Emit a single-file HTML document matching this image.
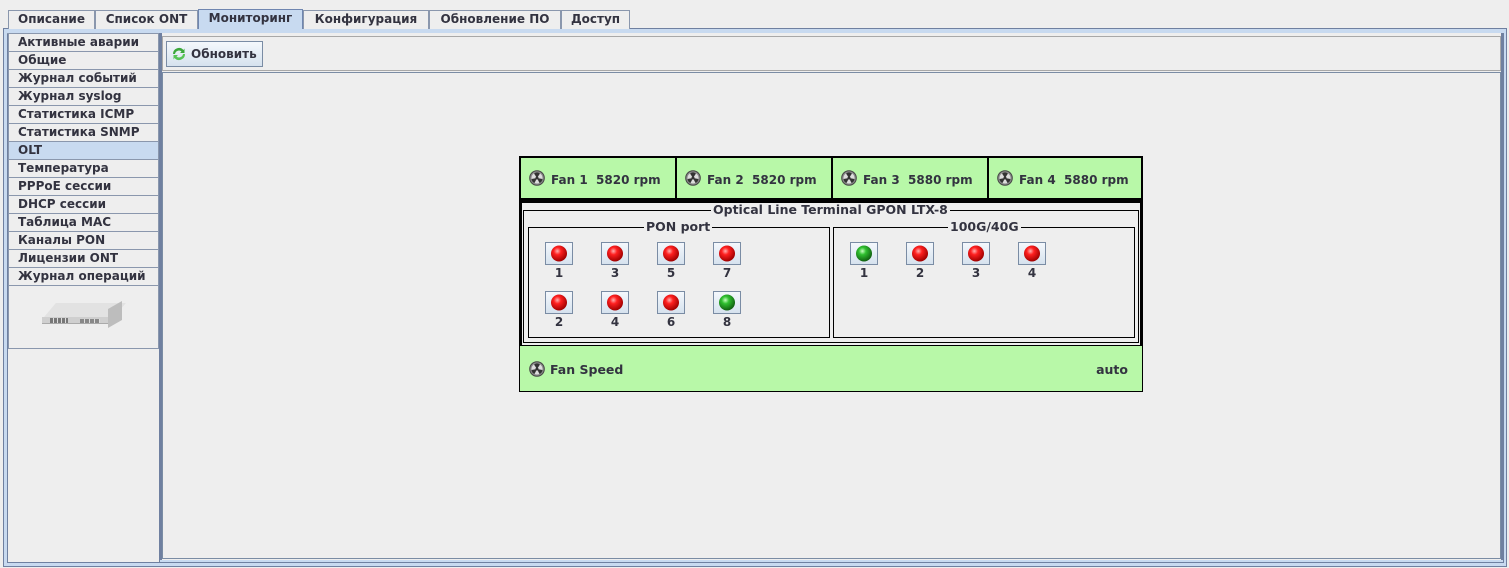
<!DOCTYPE html>
<html><head><meta charset="utf-8">
<style>
*{box-sizing:border-box;margin:0;padding:0}
body{width:1509px;height:568px;background:#eeeeee;position:relative;overflow:hidden;font-family:"DejaVu Sans","Liberation Sans",sans-serif;font-weight:bold;font-size:12px;color:#333340}
.a{position:absolute}
.tab{position:absolute;top:10px;height:19px;border:1px solid #8a97ad;border-bottom:none;background:#eeeeee;text-align:center;line-height:17px;font-size:12px}
.tab.sel{background:#c8daf0;border-color:#6f86b0;top:9px;height:20px}
.item{position:absolute;left:8px;width:151px;height:18px;border:1px solid #8a97ad;border-top:none;padding-left:9px;line-height:17px;background:#eeeeee}
.item.sel{background:#c8daf0}
.fan{position:absolute;top:156px;height:44px;background:#b8f8a8;border:2px solid #000;line-height:44px;padding-left:9px;font-size:12px}
.btn{position:absolute;width:28px;height:23px;border:1px solid #7a8ca4;background:linear-gradient(#f4f8fc,#d6e2ee)}
.num{position:absolute;width:28px;text-align:center;font-size:12px}
.leg{position:absolute;background:#eeeeee;padding:0 2px;line-height:14px;font-size:12.5px}
</style></head><body>
<div class="a" style="left:3px;top:28px;width:1504px;height:539px;border:1px solid #6f80a0;background:#c8daf0"></div>
<div class="a" style="left:7px;top:33px;width:1496px;height:530px;border:1px solid #6f80a0;background:#eeeeee"></div>
<div class="tab" style="left:8px;width:87px">Описание</div>
<div class="tab" style="left:95px;width:103px">Список ONT</div>
<div class="tab sel" style="left:198px;width:105px">Мониторинг</div>
<div class="tab" style="left:303px;width:126px">Конфигурация</div>
<div class="tab" style="left:429px;width:132px">Обновление ПО</div>
<div class="tab" style="left:561px;width:69px">Доступ</div>
<div class="a" style="left:7px;top:33px;width:153px;height:1px;background:#8a97ad"></div>
<div class="item" style="top:34px">Активные аварии</div>
<div class="item" style="top:52px">Общие</div>
<div class="item" style="top:70px">Журнал событий</div>
<div class="item" style="top:88px">Журнал syslog</div>
<div class="item" style="top:106px">Статистика ICMP</div>
<div class="item" style="top:124px">Статистика SNMP</div>
<div class="item sel" style="top:142px">OLT</div>
<div class="item" style="top:160px">Температура</div>
<div class="item" style="top:178px">PPPoE сессии</div>
<div class="item" style="top:196px">DHCP сессии</div>
<div class="item" style="top:214px">Таблица MAC</div>
<div class="item" style="top:232px">Каналы PON</div>
<div class="item" style="top:250px">Лицензии ONT</div>
<div class="item" style="top:268px">Журнал операций</div>
<div class="item" style="top:286px;height:63px"></div>
<div class="a" style="left:40px;top:303px;width:86px;height:28px">
<div class="a" style="left:10px;top:0;width:70px;height:14px;background:#e2e2e2;transform:skewX(-40deg)"></div>
<div class="a" style="left:2px;top:14px;width:66px;height:7px;background:#cfcfcf;border-bottom:1px solid #aaa"></div>
<div class="a" style="left:68px;top:2px;width:14px;height:19px;background:#bdbdbd;transform:skewY(-30deg)"></div>
<div class="a" style="left:10px;top:15px;width:18px;height:5px;background:repeating-linear-gradient(90deg,#777 0 3px,#ddd 3px 4px)"></div>
<div class="a" style="left:40px;top:16px;width:20px;height:4px;background:repeating-linear-gradient(90deg,#888 0 4px,#ddd 4px 5px)"></div>
</div>
<div class="a" style="left:159px;top:33px;width:1345px;height:530px;border:1px solid #6f80a0;border-top:none;background:#c8daf0"></div>
<div class="a" style="left:160px;top:33px;width:1343px;height:527px;border-left:2px solid #6f80a0;border-right:2px solid #6f80a0;background:#eeeeee"></div>
<div class="a" style="left:162px;top:36px;width:1339px;height:35px;border:1px solid #a8a8a8"></div>
<div class="a" style="left:162px;top:72px;width:1339px;height:487px;border:1px solid #7a8ca4"></div>
<div class="a" style="left:166px;top:41px;width:97px;height:26px;border:1px solid #7a8ca4;background:linear-gradient(#f4f8fc,#d6e2ee);line-height:25px;padding-left:24px">Обновить</div>
<svg class="a" style="left:171px;top:46px" width="16" height="16" viewBox="0 0 16 16"><path d="M2 8a6 6 0 0 1 10.5-4l1-1.5V7H9l1.5-1.5A4 4 0 0 0 4 8z" fill="#3ca83c"/><path d="M14 8a6 6 0 0 1-10.5 4l-1 1.5V9H7L5.5 10.5A4 4 0 0 0 12 8z" fill="#56c456"/></svg>
<div class="fan" style="left:519px;width:158px;padding-left:30px">Fan 1&nbsp; 5820 rpm</div>
<div class="fan" style="left:675px;width:158px;padding-left:30px">Fan 2&nbsp; 5820 rpm</div>
<div class="fan" style="left:831px;width:158px;padding-left:30px">Fan 3&nbsp; 5880 rpm</div>
<div class="fan" style="left:987px;width:156px;padding-left:30px">Fan 4&nbsp; 5880 rpm</div>
<div class="a" style="left:519px;top:200px;width:624px;height:148px;border:3px solid #000;background:#eeeeee"></div>
<div class="a" style="left:523px;top:210px;width:616px;height:133px;border:1px solid #000"></div>
<div class="leg" style="left:711px;top:203px">Optical Line Terminal GPON LTX-8</div>
<div class="a" style="left:528px;top:227px;width:302px;height:111px;border:1px solid #000"></div>
<div class="leg" style="left:644px;top:220px">PON port</div>
<div class="a" style="left:833px;top:227px;width:302px;height:111px;border:1px solid #000"></div>
<div class="leg" style="left:948px;top:220px">100G/40G</div>
<div class="a" style="left:519px;top:346px;width:624px;height:46px;background:#b8f8a8;border:1px solid #000;border-top:none;line-height:48px;padding-left:30px;font-size:12.5px">Fan Speed<span style="position:absolute;right:14px">auto</span></div>
<svg width="0" height="0" style="position:absolute"><defs>
<radialGradient id="r" cx="40%" cy="35%" r="65%"><stop offset="0" stop-color="#ffb0b0"/><stop offset=".35" stop-color="#ff2020"/><stop offset="1" stop-color="#a00000"/></radialGradient>
<radialGradient id="g" cx="40%" cy="35%" r="65%"><stop offset="0" stop-color="#c8ffc0"/><stop offset=".35" stop-color="#30c030"/><stop offset="1" stop-color="#106010"/></radialGradient>
<symbol id="fan" viewBox="0 0 16 16"><circle cx="8" cy="8" r="7.3" fill="#8a8a8a" stroke="#444" stroke-width="1"/><circle cx="8" cy="8" r="5.5" fill="#ddd"/><path d="M8 8L5 3.5A5 5 0 0 1 11 3.5Z M8 8L13.5 9A5 5 0 0 1 10.5 13Z M8 8L5.5 13A5 5 0 0 1 2.5 9Z" fill="#333"/><circle cx="8" cy="8" r="1.5" fill="#333"/></symbol>
</defs></svg>
<svg class="a" style="left:529px;top:170px" width="16" height="16"><use href="#fan"/></svg>
<svg class="a" style="left:685px;top:170px" width="16" height="16"><use href="#fan"/></svg>
<svg class="a" style="left:841px;top:170px" width="16" height="16"><use href="#fan"/></svg>
<svg class="a" style="left:997px;top:170px" width="16" height="16"><use href="#fan"/></svg>
<svg class="a" style="left:529px;top:361px" width="16" height="16"><use href="#fan"/></svg>
<div class="btn" style="left:545px;top:242px"><svg width="26" height="21"><circle cx="13" cy="10.5" r="8" fill="url(#r)"/></svg></div>
<div class="btn" style="left:601px;top:242px"><svg width="26" height="21"><circle cx="13" cy="10.5" r="8" fill="url(#r)"/></svg></div>
<div class="btn" style="left:657px;top:242px"><svg width="26" height="21"><circle cx="13" cy="10.5" r="8" fill="url(#r)"/></svg></div>
<div class="btn" style="left:713px;top:242px"><svg width="26" height="21"><circle cx="13" cy="10.5" r="8" fill="url(#r)"/></svg></div>
<div class="btn" style="left:545px;top:291px"><svg width="26" height="21"><circle cx="13" cy="10.5" r="8" fill="url(#r)"/></svg></div>
<div class="btn" style="left:601px;top:291px"><svg width="26" height="21"><circle cx="13" cy="10.5" r="8" fill="url(#r)"/></svg></div>
<div class="btn" style="left:657px;top:291px"><svg width="26" height="21"><circle cx="13" cy="10.5" r="8" fill="url(#r)"/></svg></div>
<div class="btn" style="left:713px;top:291px"><svg width="26" height="21"><circle cx="13" cy="10.5" r="8" fill="url(#g)"/></svg></div>
<div class="num" style="left:545px;top:266px">1</div>
<div class="num" style="left:601px;top:266px">3</div>
<div class="num" style="left:657px;top:266px">5</div>
<div class="num" style="left:713px;top:266px">7</div>
<div class="num" style="left:545px;top:315px">2</div>
<div class="num" style="left:601px;top:315px">4</div>
<div class="num" style="left:657px;top:315px">6</div>
<div class="num" style="left:713px;top:315px">8</div>
<div class="btn" style="left:850px;top:242px"><svg width="26" height="21"><circle cx="13" cy="10.5" r="8" fill="url(#g)"/></svg></div>
<div class="btn" style="left:906px;top:242px"><svg width="26" height="21"><circle cx="13" cy="10.5" r="8" fill="url(#r)"/></svg></div>
<div class="btn" style="left:962px;top:242px"><svg width="26" height="21"><circle cx="13" cy="10.5" r="8" fill="url(#r)"/></svg></div>
<div class="btn" style="left:1018px;top:242px"><svg width="26" height="21"><circle cx="13" cy="10.5" r="8" fill="url(#r)"/></svg></div>
<div class="num" style="left:850px;top:266px">1</div>
<div class="num" style="left:906px;top:266px">2</div>
<div class="num" style="left:962px;top:266px">3</div>
<div class="num" style="left:1018px;top:266px">4</div>
</body></html>
